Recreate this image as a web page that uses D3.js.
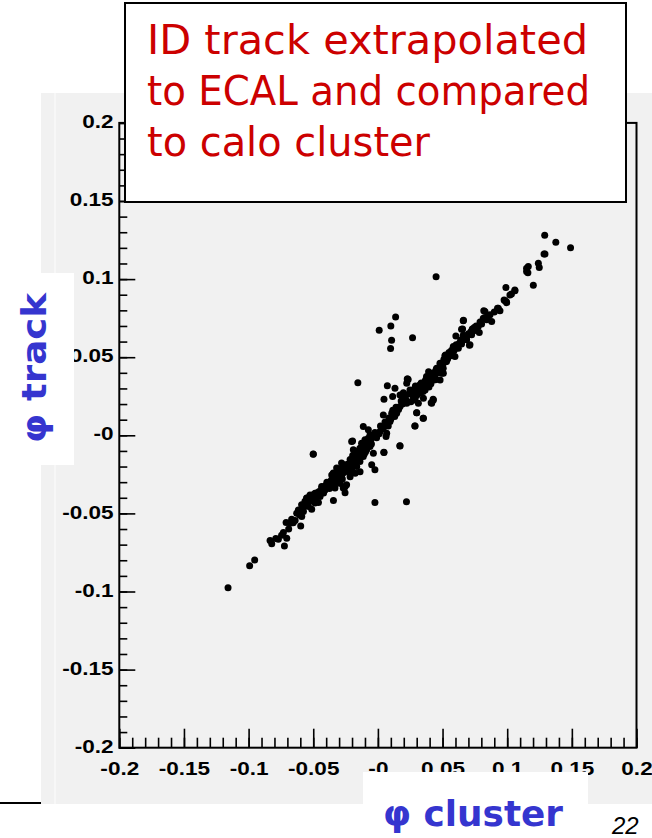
<!DOCTYPE html>
<html>
<head>
<meta charset="utf-8">
<script src="https://cdn.jsdelivr.net/npm/d3@7"></script>
<style>
  body { margin: 0; background: #fff; }
</style>
</head>
<body>
<script>
// tick values and the labels ROOT printed for them
const tickValues = [-0.2, -0.15, -0.1, -0.05, 0, 0.05, 0.1, 0.15, 0.2];
const tickLabels = ["-0.2", "-0.15", "-0.1", "-0.05", "-0", "0.05", "0.1", "0.15", "0.2"];
const noteLines = ["ID track extrapolated", "to ECAL and compared", "to calo cluster"];

// [phi cluster, phi track]
const bandPoints = [
  [-0.1159,-0.0976],[-0.0992,-0.0835],[-0.0953,-0.0798],
  [-0.0834,-0.0674],[-0.0821,-0.0695],[-0.0770,-0.0665],[-0.0731,-0.0622],[-0.0705,-0.0659],[-0.0723,-0.0708],
  [-0.0710,-0.0559],[-0.0679,-0.0563],[-0.0667,-0.0537],[-0.0597,-0.0580],[-0.0628,-0.0499],[-0.0615,-0.0478],
  [-0.0589,-0.0520],[-0.0576,-0.0488],[-0.0563,-0.0446],[-0.0537,-0.0456],[-0.0512,-0.0473],[-0.0550,-0.0403],
  [-0.0525,-0.0382],[-0.0486,-0.0371],[-0.0486,-0.0414],[-0.0460,-0.0431],[-0.0447,-0.0392],[-0.0434,-0.0339],
  [-0.0409,-0.0350],[-0.0370,-0.0297],[-0.0344,-0.0318],[-0.0344,-0.0418],[-0.0357,-0.0254],[-0.0313,-0.0275],
  [-0.0293,-0.0307],[-0.0254,-0.0329],[-0.0254,-0.0367],[-0.0305,-0.0233],[-0.0267,-0.0239],[-0.0215,-0.0265],
  [-0.0176,-0.0243],[-0.0138,-0.0233],
  [-0.0474,-0.0370],[-0.0500,-0.0381],[-0.0526,-0.0391],[-0.0551,-0.0402],[-0.0564,-0.0423],[-0.0590,-0.0445],
  [-0.0487,-0.0434],[-0.0435,-0.0328],[-0.0422,-0.0349],[-0.0397,-0.0338],[-0.0371,-0.0317],[-0.0332,-0.0338],
  [-0.0268,-0.0338],[-0.0242,-0.0317],[-0.0293,-0.0306],[-0.0319,-0.0264],[-0.0358,-0.0285],[-0.0345,-0.0242],
  [-0.0319,-0.0210],[-0.0268,-0.0221],[-0.0281,-0.0178],[-0.0242,-0.0200],[-0.0203,-0.0221],[-0.0164,-0.0200],
  [-0.0139,-0.0168],[-0.0113,-0.0136],[-0.0035,-0.0115],[-0.0061,-0.0072],[-0.0203,-0.0040],[-0.0190,-0.0093],
  [-0.0177,-0.0136],[-0.0152,-0.0115],[-0.0087,-0.0093],[-0.0139,-0.0083],[-0.0126,-0.0051],[-0.0074,0.0035],
  [-0.0113,0.0056],[-0.0100,-0.0029],[-0.0074,-0.0019],[-0.0061,0.0003],[-0.0023,0.0018],[0.0016,0.0024],
  [0.0042,0.0045],[0.0068,0.0067],[0.0094,0.0088],[0.0042,0.0130],[0.0107,0.0141],[0.0145,0.0141],
  [0.0171,0.0184],[0.0223,0.0205],[0.0313,0.0205],[0.0416,0.0205],[0.0429,0.0226],[0.0506,0.0397],
  [0.0494,0.0407],[0.0455,0.0397],[0.0403,0.0375],[0.0429,0.0354],[0.0481,0.0354],[0.0377,0.0322],
  [0.0352,0.0237],[0.0287,0.0226],[0.0326,0.0269],[0.0300,0.0290],[0.0248,0.0290],[0.0365,0.0290],
  [0.0274,0.0269],[0.0197,0.0273],[0.0171,0.0258],[0.0047,0.0231],[0.0114,0.0248],[0.0132,0.0301],
  [0.0073,0.0318],[0.0223,0.0333],[0.0230,0.0360],[0.0068,0.0013],[0.0063,-0.0008],[-0.0048,-0.0189],
  [-0.0023,-0.0221],[0.0047,-0.0110],[0.0171,-0.0068],[0.0287,0.0060],[0.0352,0.0109],[0.0300,0.0145],
  [0.0286,0.0060],[0.0412,0.0209],[0.0427,0.0230],[0.0392,0.0407],[0.0234,0.0358],
  [0.1292,0.1160],[0.1163,0.1080],[0.1150,0.1048],[0.1241,0.1101],[0.1248,0.1075],[0.1202,0.0960],
  [0.0990,0.0947],[0.1060,0.0926],[0.1021,0.0898],[0.0983,0.0862],[0.0996,0.0849],[0.0931,0.0813],
  [0.0944,0.0798],[0.0828,0.0792],[0.0867,0.0771],[0.0841,0.0739],[0.0880,0.0728],[0.0660,0.0734],
  [0.0802,0.0713],[0.0776,0.0696],[0.0751,0.0671],[0.0647,0.0679],[0.0784,0.0658],[0.0725,0.0643],
  [0.0686,0.0611],[0.0603,0.0636],[0.0712,0.0579],[0.0647,0.0585],[0.0622,0.0558],[0.0583,0.0568],
  [0.0557,0.0526],[0.0596,0.0504],[0.0518,0.0509],[0.0531,0.0472],[0.0480,0.0462],[0.0505,0.0430],
  [0.0454,0.0430],[0.0493,0.0398],[0.0415,0.0394],[0.0428,0.0366],[0.0376,0.0377],[0.0364,0.0345],
  [0.0325,0.0323],[0.0389,0.0323],[0.0286,0.0302],[0.0227,0.0360],
  [0.1290,0.1280],[0.1376,0.1236],[0.1490,0.1200],[0.1285,0.1160],[0.1150,0.1070],[0.1160,0.1040],
  [0.1059,0.0930],[0.1033,0.0905],[0.0994,0.0855],[0.0976,0.0866],[0.0925,0.0813],[0.0819,0.0798],
  [0.0662,0.0736],[0.0655,0.0680],[0.0708,0.0576],[0.0523,0.0514],
  [-0.0228,-0.0190],[-0.0205,-0.0172],[-0.0185,-0.0158],[-0.0160,-0.0150],[-0.0150,-0.0125],[-0.0128,-0.0110],
  [-0.0118,-0.0090],[-0.0100,-0.0078],[-0.0095,-0.0105],[-0.0080,-0.0060],[-0.0070,-0.0045],[-0.0055,-0.0030],
  [-0.0045,-0.0012],[-0.0030,-0.0005],[-0.0170,-0.0110],[-0.0195,-0.0130],[-0.0215,-0.0155],[-0.0240,-0.0230],
  [-0.0260,-0.0190],[-0.0280,-0.0255],[-0.0300,-0.0265],[-0.0320,-0.0285],[-0.0330,-0.0300],[-0.0385,-0.0320],
  [-0.0410,-0.0325],[-0.0455,-0.0360],[-0.0120,-0.0065],[-0.0145,-0.0095],[-0.0185,-0.0190],[-0.0105,-0.0120],
  [0.0300,0.0255],[0.0320,0.0300],[0.0340,0.0310],[0.0350,0.0280],[0.0360,0.0330],[0.0385,0.0345],
  [0.0400,0.0350],[0.0410,0.0330],[0.0440,0.0380],[0.0460,0.0410],[0.0470,0.0420],[0.0480,0.0440],
  [0.0500,0.0450],[0.0520,0.0470],[0.0540,0.0490],[0.0560,0.0510],[0.0575,0.0530],[0.0590,0.0545],
  [0.0610,0.0560],[0.0630,0.0590],[0.0650,0.0605],[0.0670,0.0620],[0.0700,0.0650],[0.0730,0.0680],
  [0.0760,0.0700],[0.0395,0.0310],[0.0420,0.0395],[0.0445,0.0355],[0.0275,0.0240],[0.0255,0.0215],
  [0.0215,0.0230],[0.0190,0.0200],[0.0160,0.0165],[0.0130,0.0120],[0.0100,0.0105],[0.0080,0.0060],
  [0.0030,0.0040],[0.0010,0.0010],[-0.0010,-0.0015],
  [-0.0790,-0.0660],[-0.0745,-0.0640],[-0.0690,-0.0600],[-0.0655,-0.0560],[-0.0640,-0.0545],[-0.0605,-0.0510],
  [-0.0580,-0.0470],[-0.0545,-0.0430],[-0.0520,-0.0420],[-0.0500,-0.0400],[-0.0465,-0.0385],[-0.0440,-0.0365],
  [-0.0420,-0.0370],[-0.0395,-0.0300],[-0.0375,-0.0340],
  [-0.0335,-0.0260],[-0.0310,-0.0240],[-0.0290,-0.0215],[-0.0275,-0.0280],[-0.0250,-0.0210],[-0.0235,-0.0185],
  [-0.0220,-0.0240],[-0.0200,-0.0200],[-0.0190,-0.0165],[-0.0175,-0.0175],[-0.0165,-0.0125],[-0.0155,-0.0160],
  [-0.0135,-0.0135],[-0.0125,-0.0100],[-0.0110,-0.0080],[-0.0090,-0.0070],[-0.0085,-0.0040],[-0.0065,-0.0025],
  [-0.0050,-0.0055],[-0.0020,0.0000],
  [0.0020,0.0060],[0.0055,0.0085],[0.0085,0.0110],[0.0115,0.0160],[0.0140,0.0180],[0.0180,0.0220],
  [0.0205,0.0250],[0.0240,0.0265],[0.0265,0.0280],[0.0290,0.0315],[0.0310,0.0275],[0.0335,0.0335],
  [0.0370,0.0355],[0.0390,0.0370],[0.0430,0.0400],[0.0450,0.0420],[0.0490,0.0460],[0.0510,0.0485],
  [0.0530,0.0500],[0.0550,0.0530],[0.0570,0.0545],[0.0605,0.0580],[0.0640,0.0610],[0.0660,0.0640],
  [0.0690,0.0635],[0.0720,0.0665],[0.0745,0.0690],[0.0790,0.0725],[0.0815,0.0750],[0.0850,0.0760],
  [0.0900,0.0790]
];

// points well off the band
const outlierPoints = [
  [0.0450,0.1015],[0.0137,0.0757],[0.0100,0.0700],[0.0010,0.0672],[0.0106,0.0608],[0.0098,0.0555],
  [0.0268,0.0625],[-0.0155,0.0337],[-0.0500,-0.0122],[-0.0023,-0.0431],[0.0221,-0.0425],
  [0.0300,0.0145],[0.0350,0.0109],[0.0170,-0.0067],[0.0046,-0.0109],[-0.0196,-0.0036],[-0.0500,-0.0119]
];

const W = 652, H = 838;
const svg = d3.select("body").append("svg")
  .attr("width", W).attr("height", H)
  .style("display", "block");

svg.append("rect").attr("width", W).attr("height", H).attr("fill", "#fff");

// grey canvas of the ROOT picture
svg.append("rect").attr("x", 41).attr("y", 93).attr("width", W - 41).attr("height", 711).attr("fill", "#f1f1f1");
svg.append("rect").attr("x", 54).attr("y", 93).attr("width", 2).attr("height", 711).attr("fill", "#f7f7f7");
svg.append("line").attr("x1", 0).attr("x2", 41).attr("y1", 803).attr("y2", 803)
  .attr("stroke", "#000").attr("stroke-width", 2);

const x = d3.scaleLinear().domain([-0.2, 0.2]).range([119.3, 636.5]);
const y = d3.scaleLinear().domain([-0.2, 0.2]).range([747.7, 122.9]);

const fmt = d => tickLabels[tickValues.findIndex(v => Math.abs(v - d) < 1e-9)];

// minor ticks
svg.append("g").attr("transform", `translate(0,${y(-0.2)})`)
  .call(d3.axisBottom(x).ticks(40).tickSizeInner(-10).tickSizeOuter(0).tickFormat(""))
  .call(g => g.select(".domain").remove());
svg.append("g").attr("transform", `translate(${x(-0.2)},0)`)
  .call(d3.axisLeft(y).ticks(40).tickSizeInner(-8).tickSizeOuter(0).tickFormat(""))
  .call(g => g.select(".domain").remove());

// major ticks with labels
const xAxis = svg.append("g").attr("transform", `translate(0,${y(-0.2)})`)
  .call(d3.axisBottom(x).tickValues(tickValues).tickSizeInner(-19).tickSizeOuter(0).tickPadding(14.5).tickFormat(fmt))
  .call(g => g.select(".domain").remove());
const yAxis = svg.append("g").attr("transform", `translate(${x(-0.2)},0)`)
  .call(d3.axisLeft(y).tickValues(tickValues).tickSizeInner(-16).tickSizeOuter(0).tickPadding(4.7).tickFormat(fmt))
  .call(g => g.select(".domain").remove());

[xAxis, yAxis].forEach(g => {
  g.attr("font-family", "'Liberation Sans', Arial, sans-serif").attr("font-size", 18.5).attr("font-weight", "bold");
  g.selectAll("text").attr("fill", "#000").attr("transform", "scale(1.22,1)");
});
yAxis.selectAll("text").attr("dy", "0.25em");
svg.selectAll(".tick line").attr("stroke", "#000").attr("stroke-width", 1.6);

// frame
svg.append("rect")
  .attr("x", x(-0.2)).attr("y", y(0.2))
  .attr("width", x(0.2) - x(-0.2)).attr("height", y(-0.2) - y(0.2))
  .attr("fill", "none").attr("stroke", "#000").attr("stroke-width", 2);

// scatter
svg.append("g").selectAll("circle")
  .data(bandPoints.concat(outlierPoints))
  .join("circle")
  .attr("cx", d => x(d[0]))
  .attr("cy", d => y(d[1]))
  .attr("r", 3.5)
  .attr("fill", "#000");

// white label boxes
const blue = "#3535cf";
svg.append("rect").attr("x", 0).attr("y", 273).attr("width", 74).attr("height", 192).attr("fill", "#fff");
svg.append("text")
  .attr("transform", "translate(46,443) rotate(-90)")
  .attr("font-family", "'DejaVu Sans', sans-serif").attr("font-weight", "bold").attr("font-size", 34)
  .attr("fill", blue)
  .attr("textLength", 150).attr("lengthAdjust", "spacingAndGlyphs")
  .text("φ track");

svg.append("rect").attr("x", 363).attr("y", 772).attr("width", 225).attr("height", 66).attr("fill", "#fff");
svg.append("text")
  .attr("x", 383).attr("y", 826)
  .attr("font-family", "'DejaVu Sans', sans-serif").attr("font-weight", "bold").attr("font-size", 36)
  .attr("fill", blue)
  .attr("textLength", 180).attr("lengthAdjust", "spacingAndGlyphs")
  .text("φ cluster");

// page number, partly off the bottom edge in the slide
svg.append("text")
  .attr("x", 612).attr("y", 834)
  .attr("font-family", "'Liberation Sans', Arial, sans-serif").attr("font-style", "italic").attr("font-size", 24)
  .attr("fill", "#000")
  .text("22");

// annotation box
svg.append("rect").attr("x", 125).attr("y", 3).attr("width", 501).attr("height", 199)
  .attr("fill", "#fff").attr("stroke", "#000").attr("stroke-width", 2);
const noteWidths = [441, 443, 283];
svg.append("g").selectAll("text")
  .data(noteLines)
  .join("text")
  .attr("x", 147)
  .attr("y", (d, i) => 54 + i * 51)
  .attr("font-family", "'DejaVu Sans', sans-serif").attr("font-size", 40)
  .attr("fill", "#cc0000")
  .attr("textLength", (d, i) => noteWidths[i]).attr("lengthAdjust", "spacingAndGlyphs")
  .text(d => d);
</script>
</body>
</html>
